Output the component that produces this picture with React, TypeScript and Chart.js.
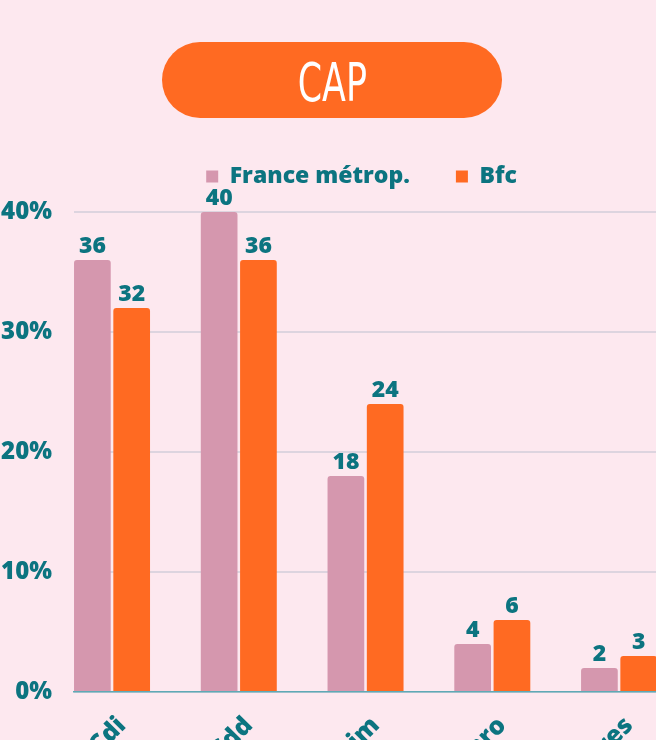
import { useEffect, useRef } from 'react';
import { Chart, registerables } from 'chart.js';

Chart.register(...registerables);

const title = 'CAP';
const categories = ['Cdi', 'Cdd', 'Intérim', 'Contrat pro', 'Autres'];
const seriesNames = ['France métrop.', 'Bfc'];
const franceValues = [36, 40, 18, 4, 2];
const bfcValues = [32, 36, 24, 6, 3];
const yMin = 0;
const yMax = 40;
const yStep = 10;

const BG = '#fde8ef';
const PINK = '#d597ae';
const ORANGE = '#ff6a22';
const TEAL = '#0c7480';
const GRID = '#ddd4df';
const AXIS = '#5fa9b5';
const FONT = "'Open Sans', 'DejaVu Sans', sans-serif";

const CANVAS_W = 723;
const CANVAS_H = 800;

const legendSpacer = {
  id: 'legendSpacer',
  beforeInit(chart: any) {
    const legend = chart.legend;
    if (!legend) return;
    const fit = legend.fit;
    legend.fit = function () {
      fit.call(this);
      this.height += 14;
    };
  },
};

const valueLabels = {
  id: 'valueLabels',
  afterDatasetsDraw(chart: any) {
    const ctx = chart.ctx;
    ctx.save();
    ctx.font = `800 23px ${FONT}`;
    ctx.fillStyle = TEAL;
    ctx.textAlign = 'center';
    ctx.textBaseline = 'alphabetic';
    chart.data.datasets.forEach((ds: any, di: number) => {
      const meta = chart.getDatasetMeta(di);
      meta.data.forEach((el: any, i: number) => {
        const v = ds.data[i].y;
        ctx.fillText(String(v), el.x, el.y - 7);
      });
    });
    ctx.restore();
  },
};

export default function App() {
  const ref = useRef<HTMLCanvasElement>(null);

  useEffect(() => {
    document.body.style.margin = '0';
    document.body.style.background = BG;
    const chart = new Chart(ref.current as HTMLCanvasElement, {
      type: 'bar',
      data: {
        datasets: [
          {
            label: seriesNames[0],
            data: franceValues.map((v, i) => ({ x: i, y: v })),
            backgroundColor: PINK,
            borderWidth: 0,
            borderRadius: 3,
            categoryPercentage: 0.62,
            barPercentage: 0.934,
          },
          {
            label: seriesNames[1],
            data: bfcValues.map((v, i) => ({ x: i, y: v })),
            backgroundColor: ORANGE,
            borderWidth: 0,
            borderRadius: 3,
            categoryPercentage: 0.62,
            barPercentage: 0.934,
          },
        ],
      },
      options: {
        responsive: false,
        animation: false,
        devicePixelRatio: 1,
        layout: { padding: { top: 119, left: 0, right: 0, bottom: 0 } },
        plugins: {
          title: { display: false },
          tooltip: { enabled: false },
          legend: {
            display: true,
            position: 'top',
            labels: {
              boxWidth: 12,
              boxHeight: 12,
              padding: 46,
              color: TEAL,
              font: { family: FONT, weight: '800', size: 23 },
            },
          },
        },
        scales: {
          x: {
            type: 'linear',
            min: -0.3,
            max: 4.82,
            offset: false,
            grid: { display: false, drawTicks: false },
            border: { display: true, color: AXIS, width: 1.5 },
            afterBuildTicks(scale: any) {
              scale.ticks = categories.map((_, i) => ({ value: i }));
            },
            afterFit(scale: any) {
              scale.height = CANVAS_H - 692;
              scale.paddingLeft = 0;
              scale.paddingRight = 0;
            },
            ticks: {
              autoSkip: false,
              minRotation: 45,
              maxRotation: 45,
              padding: 19,
              labelOffset: 10,
              color: TEAL,
              font: { family: FONT, weight: '800', size: 25 },
              callback: (v: any) => categories[v] ?? '',
            },
          },
          y: {
            min: yMin,
            max: yMax,
            grid: { color: GRID, lineWidth: 2, drawTicks: false },
            border: { display: false },
            afterFit(scale: any) {
              scale.width = 74;
            },
            ticks: {
              stepSize: yStep,
              padding: 22,
              color: TEAL,
              font: { family: FONT, weight: '800', size: 24 },
              callback: (v: any) => `${v}%`,
            },
          },
        },
      },
      plugins: [legendSpacer, valueLabels],
    } as any);
    return () => chart.destroy();
  }, []);

  return (
    <div
      style={{
        position: 'fixed',
        left: 0,
        top: 0,
        width: 656,
        height: 740,
        overflow: 'hidden',
        background: BG,
      }}
    >
      <canvas
        ref={ref}
        width={CANVAS_W}
        height={CANVAS_H}
        style={{ position: 'absolute', left: 0, top: 0, width: CANVAS_W, height: CANVAS_H }}
      />
      <div
        style={{
          position: 'absolute',
          left: 162,
          top: 42,
          width: 340,
          height: 76,
          borderRadius: 38,
          background: ORANGE,
          display: 'flex',
          alignItems: 'center',
          justifyContent: 'center',
        }}
      >
        <span
          style={{
            color: '#ffffff',
            fontFamily: "'Liberation Sans Narrow', 'DejaVu Sans Condensed', sans-serif",
            fontSize: 53,
            lineHeight: 1,
            display: 'inline-block',
            transform: 'scaleX(0.73)',
            paddingTop: 5,
          }}
        >
          {title}
        </span>
      </div>
    </div>
  );
}
